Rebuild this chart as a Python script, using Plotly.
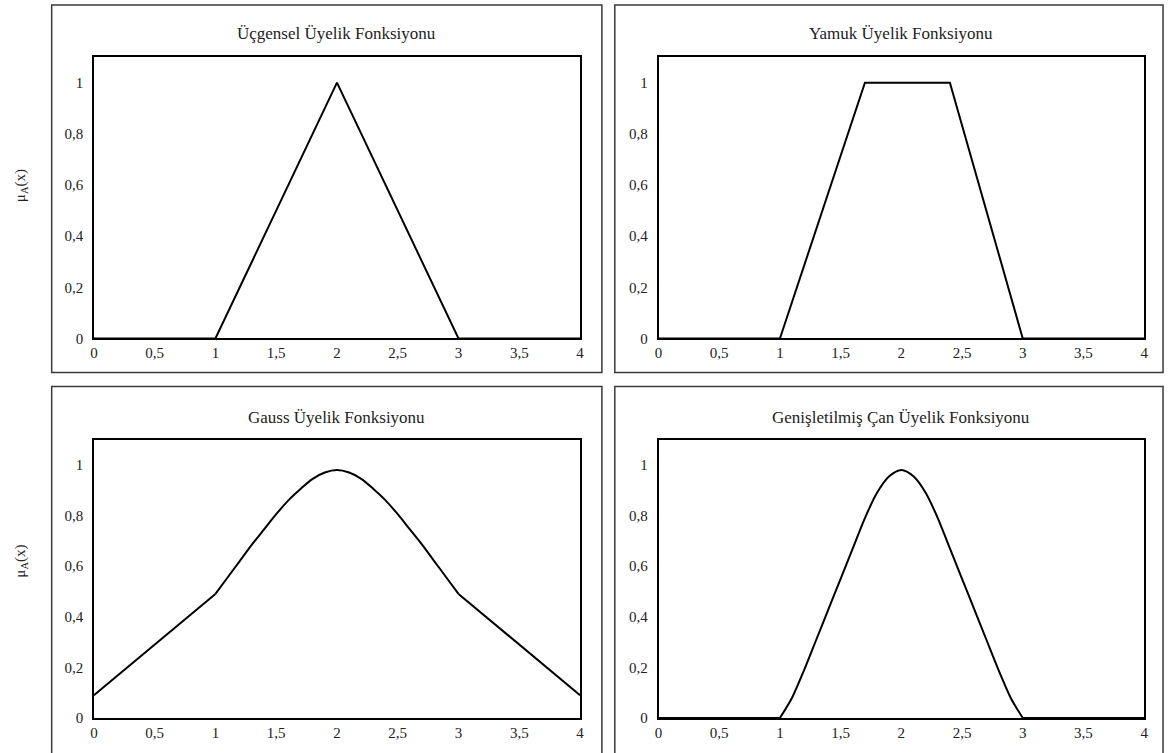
import plotly.graph_objects as go

W, H = 1173, 762

# ---- data ----
tri_x = [0, 1, 2, 3, 4]
tri_y = [0, 0, 1, 0, 0]

trap_x = [0, 1, 1.7, 2.4, 3, 4]
trap_y = [0, 0, 1, 1, 0, 0]

gauss_left_x = [0, 0.25, 0.5, 0.75, 1.0]
gauss_left_y = [0.09, 0.19, 0.29, 0.39, 0.49]
gauss_mid_x = [1.0, 1.1, 1.2, 1.3, 1.4, 1.5, 1.6, 1.7, 1.8, 1.9, 2.0,
               2.1, 2.2, 2.3, 2.4, 2.5, 2.6, 2.7, 2.8, 2.9, 3.0]
gauss_mid_y = [0.49, 0.555, 0.62, 0.685, 0.745, 0.805, 0.86, 0.905, 0.945, 0.97, 0.98,
               0.97, 0.945, 0.905, 0.86, 0.805, 0.745, 0.685, 0.62, 0.555, 0.49]
gauss_right_x = [3.0, 3.25, 3.5, 3.75, 4.0]
gauss_right_y = [0.49, 0.39, 0.29, 0.19, 0.09]

bell_x = [1.0, 1.1, 1.2, 1.3, 1.4, 1.5, 1.6, 1.7, 1.8, 1.9, 2.0,
          2.1, 2.2, 2.3, 2.4, 2.5, 2.6, 2.7, 2.8, 2.9, 3.0]
bell_y = [0, 0.08, 0.19, 0.31, 0.43, 0.55, 0.67, 0.79, 0.89, 0.955, 0.98,
          0.955, 0.89, 0.79, 0.67, 0.55, 0.43, 0.31, 0.19, 0.08, 0]
bell_flat_x = [0, 1.0]
bell_flat_y = [0, 0]
bell_flat2_x = [3.0, 4.0]
bell_flat2_y = [0, 0]

titles = ["Üçgensel Üyelik Fonksiyonu", "Yamuk Üyelik Fonksiyonu",
          "Gauss Üyelik Fonksiyonu", "Genişletilmiş Çan Üyelik Fonksiyonu"]

x_tickvals = [0, 0.5, 1, 1.5, 2, 2.5, 3, 3.5, 4]
x_ticktext = ["0", "0,5", "1", "1,5", "2", "2,5", "3", "3,5", "4"]
y_tickvals = [0, 0.2, 0.4, 0.6, 0.8, 1]
y_ticktext = ["0", "0,2", "0,4", "0,6", "0,8", "1"]

y_label = "μ<sub>A</sub>(x)"

FONT = "Liberation Serif, Times New Roman, serif"

# ---- layout helpers (reference pixel -> paper fraction) ----
RW, RH = 1173, 753

def px(x):
    return x / RW

def py(y):
    return 1 - y / RH

# plot-area pixel boxes: (x0, x1, ytop, ybottom)
areas = [
    (90.5, 580, 57, 338),
    (659, 1148, 57, 338),
    (90.5, 580, 439, 717),
    (659, 1148, 439, 717),
]
outer = [
    (48, 602, 5, 372),
    (615, 1167, 5, 372),
    (48, 602, 386, 770),
    (615, 1167, 386, 770),
]

panels = [
    [(tri_x, tri_y, "linear")],
    [(trap_x, trap_y, "linear")],
    [(gauss_left_x, gauss_left_y, "linear"),
     (gauss_mid_x, gauss_mid_y, "spline"),
     (gauss_right_x, gauss_right_y, "linear")],
    [(bell_flat_x, bell_flat_y, "linear"),
     (bell_x, bell_y, "spline"),
     (bell_flat2_x, bell_flat2_y, "linear")],
]

fig = go.Figure()
layout = dict(
    width=W, height=H, autosize=False,
    margin=dict(l=0, r=0, t=0, b=0),
    paper_bgcolor="white", plot_bgcolor="white",
    showlegend=False,
    font=dict(family=FONT, size=15, color="#222"),
    shapes=[], annotations=[],
)

for i, (parts, (x0, x1, yt, yb), title) in enumerate(zip(panels, areas, titles)):
    n = i + 1
    xa = "x" if n == 1 else f"x{n}"
    ya = "y" if n == 1 else f"y{n}"
    for xs, ys, shp in parts:
        fig.add_trace(go.Scatter(x=xs, y=ys, mode="lines", xaxis=xa, yaxis=ya,
                                 line=dict(color="black", width=2, shape=shp, smoothing=0.8),
                                 hoverinfo="skip"))
    xkey = "xaxis" if n == 1 else f"xaxis{n}"
    ykey = "yaxis" if n == 1 else f"yaxis{n}"
    layout[xkey] = dict(domain=[px(x0), px(x1)], range=[0, 4], anchor=ya,
                        showline=True, mirror=True, linecolor="black", linewidth=1.5,
                        showgrid=False, zeroline=False, ticks="",
                        tickvals=x_tickvals, ticktext=x_ticktext, ticklabelstandoff=0,
                        tickfont=dict(family=FONT, size=15, color="#222"))
    layout[ykey] = dict(domain=[py(yb), py(yt)], range=[0, 1.1], anchor=xa,
                        showline=True, mirror=True, linecolor="black", linewidth=1.5,
                        showgrid=False, zeroline=False, ticks="",
                        tickvals=y_tickvals, ticktext=y_ticktext, ticklabelstandoff=6,
                        tickfont=dict(family=FONT, size=15, color="#222"))
    layout["annotations"].append(dict(
        text=title, xref="paper", yref="paper",
        x=px((x0 + x1) / 2), y=py(33 if i < 2 else 417),
        showarrow=False, xanchor="center", yanchor="middle",
        font=dict(family=FONT, size=17, color="#222")))

for (x0, x1, y0, y1) in outer:
    layout["shapes"].append(dict(type="rect", xref="paper", yref="paper",
                                 x0=px(x0), x1=px(x1), y0=py(y1), y1=py(y0),
                                 line=dict(color="#3a3a3a", width=1.5)))

for yc in (185, 560):
    layout["annotations"].append(dict(
        text=y_label, xref="paper", yref="paper", x=px(17), y=py(yc),
        textangle=-90, showarrow=False, xanchor="center", yanchor="middle",
        font=dict(family=FONT, size=15, color="#222")))

fig.update_layout(**layout)
fig.write_html("out.html", config={"displayModeBar": False},
               post_script="document.body.style.margin='0';document.body.style.overflow='hidden';document.documentElement.style.overflow='hidden';")
